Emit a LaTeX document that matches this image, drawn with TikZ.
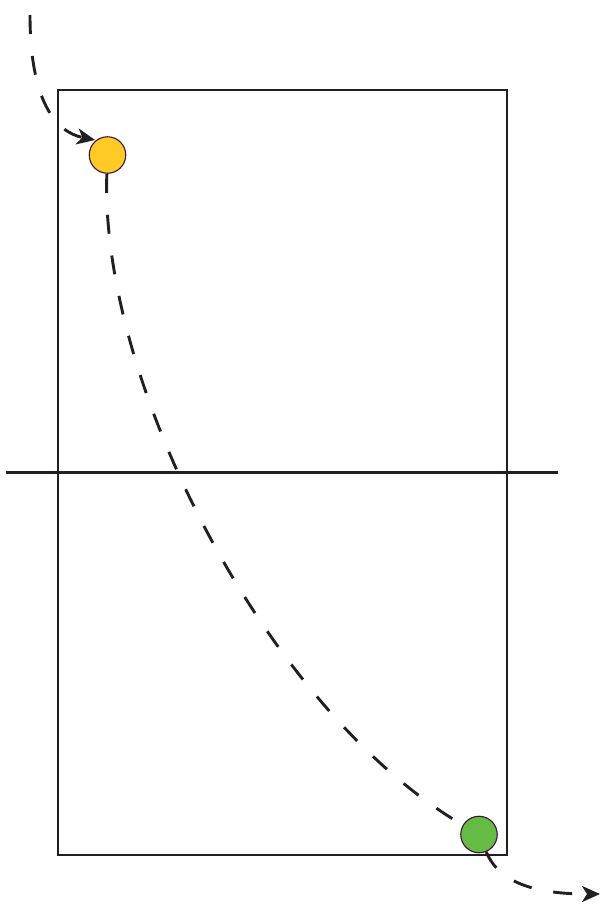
\documentclass[tikz,border=0pt]{standalone}
\usetikzlibrary{arrows.meta}
\definecolor{ballyellow}{RGB}{255,201,38}
\definecolor{ballgreen}{RGB}{102,187,68}
\definecolor{ballrim}{RGB}{60,20,50}
\definecolor{inkc}{RGB}{35,31,32}
\begin{document}
\begin{tikzpicture}[x=1pt,y=-1pt,
  court/.style={draw=inkc,line width=2.9pt},
  ball/.style={circle,draw=ballrim,line width=1.1pt,minimum size=36.5pt,inner sep=0pt},
  trail/.style={draw=inkc,line width=2.9pt,dash pattern=on 19pt off 22pt},
  tip/.style={-{Stealth[length=18pt,width=16pt,inset=5pt]}}]
\useasboundingbox (0,0) rectangle (605,916);
\draw[court] (58,90) rectangle (507,855);
\draw[court] (6,472.5) -- (558,472.5);
\node[ball,fill=ballyellow] (y) at (107.5,155) {};
\node[ball,fill=ballgreen] (g) at (479,834.5) {};
\coordinate (s) at (30,15);
\coordinate (ya) at (95,140);
\coordinate (e) at (600,894);
\draw[trail,tip] (s) .. controls (30,100) and (55,132) .. (ya);
\draw[trail] (y) .. controls (99.5,383) and (267,710.5) .. (g);
\draw[trail,tip] (g) .. controls (500,885) and (540,894) .. (e);
\end{tikzpicture}
\end{document}
